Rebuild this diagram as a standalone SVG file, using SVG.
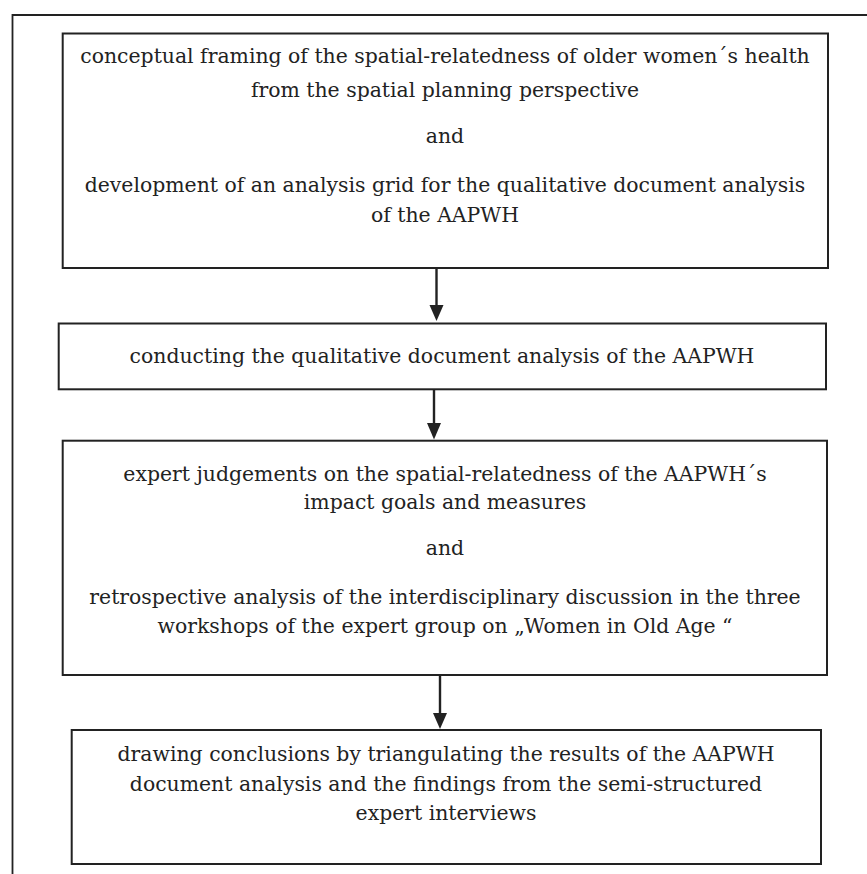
<svg xmlns="http://www.w3.org/2000/svg" width="867" height="874" viewBox="0 0 867 874">
<style>
.box{fill:#fff;stroke:#222;stroke-width:2}
.frame{fill:none;stroke:#222;stroke-width:1.8}
.t{font-family:"DejaVu Serif","Liberation Serif",serif;font-size:20.4px;fill:#222;text-anchor:middle}
.c{stroke:#222;stroke-width:2.4;fill:none}
</style>
<rect width="867" height="874" fill="#fff"/>
<path class="frame" d="M12.5,874 V15 H867"/>
<g id="connectors">
<line class="c" x1="436.5" y1="269" x2="436.5" y2="306"/>
<path d="M429.5,305 L443.5,305 L436.5,321 Z" fill="#222"/>
<line class="c" x1="434" y1="390" x2="434" y2="424"/>
<path d="M427,423 L441,423 L434,439.5 Z" fill="#222"/>
<line class="c" x1="440" y1="676" x2="440" y2="714"/>
<path d="M433,713 L447,713 L440,729 Z" fill="#222"/>
</g>
<g id="node1">
<rect class="box" x="62.7" y="33.5" width="765.3" height="234.5"/>
<text class="t" x="445" y="63">conceptual framing of the spatial-relatedness of older women´s health</text>
<text class="t" x="445" y="97">from the spatial planning perspective</text>
<text class="t" x="445" y="143">and</text>
<text class="t" x="445" y="192">development of an analysis grid for the qualitative document analysis</text>
<text class="t" x="445" y="222">of the AAPWH</text>
</g>
<g id="node2">
<rect class="box" x="58.7" y="323.5" width="767.3" height="65.8"/>
<text class="t" x="442" y="363">conducting the qualitative document analysis of the AAPWH</text>
</g>
<g id="node3">
<rect class="box" x="62.7" y="440.7" width="764.3" height="234.3"/>
<text class="t" x="445" y="481">expert judgements on the spatial-relatedness of the AAPWH´s</text>
<text class="t" x="445" y="509">impact goals and measures</text>
<text class="t" x="445" y="555">and</text>
<text class="t" x="445" y="604">retrospective analysis of the interdisciplinary discussion in the three</text>
<text class="t" x="445" y="633">workshops of the expert group on „Women in Old Age “</text>
</g>
<g id="node4">
<rect class="box" x="71.7" y="730" width="749.3" height="134"/>
<text class="t" x="446" y="761">drawing conclusions by triangulating the results of the AAPWH</text>
<text class="t" x="446" y="791">document analysis and the findings from the semi-structured</text>
<text class="t" x="446" y="820">expert interviews</text>
</g>
</svg>
